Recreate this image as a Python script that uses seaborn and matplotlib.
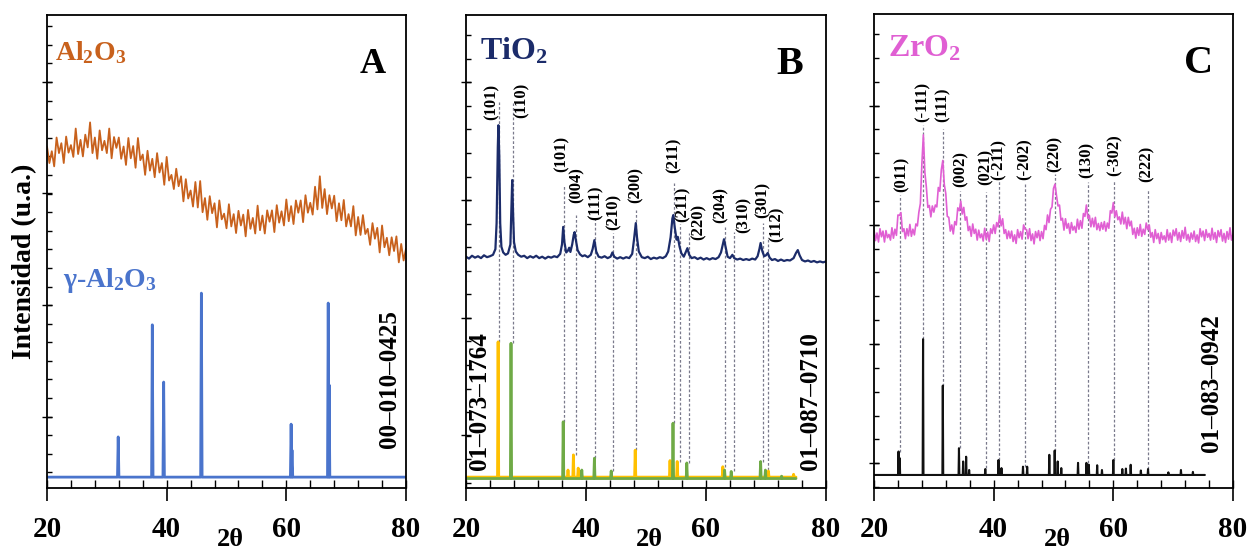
import numpy as np
import pandas as pd
import matplotlib
matplotlib.use("Agg")
import matplotlib.pyplot as plt
import seaborn as sns
from matplotlib.ticker import FixedLocator

# ---------------- data ----------------
two_theta_ticks = [20, 40, 60, 80]
two_theta_labels = ["20", "40", "60", "80"]

# Panel A: measured Al2O3 (0.4 deg steps, 20..80)
al2o3_y = [72.2, 68.7, 71.2, 68.0, 74.1, 70.8, 72.9, 68.7, 74.3, 70.9,
           72.5, 70.0, 76.0, 70.6, 73.6, 70.1, 74.7, 72.0, 77.3, 70.8,
           74.1, 69.6, 75.6, 71.4, 73.4, 70.8, 76.0, 69.7, 74.2, 71.9,
           74.1, 69.6, 72.2, 68.3, 74.0, 69.7, 72.3, 67.7, 74.0, 69.3,
           70.5, 66.2, 71.3, 67.1, 69.6, 65.7, 70.8, 66.7, 68.7, 64.1,
           70.0, 65.0, 66.2, 63.2, 67.5, 63.8, 65.9, 60.6, 65.3, 61.2,
           62.9, 59.5, 64.7, 59.3, 64.9, 58.3, 61.3, 56.7, 61.7, 58.1,
           60.2, 55.1, 60.8, 56.8, 58.0, 54.9, 60.0, 55.3, 57.9, 53.9,
           58.6, 55.5, 57.8, 53.2, 58.8, 54.8, 57.1, 53.8, 59.7, 54.5,
           57.6, 53.8, 58.7, 56.3, 58.7, 54.1, 59.8, 56.1, 58.5, 55.5,
           61.0, 56.4, 59.6, 55.8, 60.8, 58.2, 60.8, 56.2, 61.9, 58.2,
           60.3, 57.8, 63.7, 58.9, 65.9, 59.2, 63.2, 57.9, 61.9, 59.1,
           61.8, 56.4, 60.2, 56.6, 60.9, 55.3, 57.9, 55.3, 59.6, 53.4,
           57.3, 53.5, 57.7, 53.7, 54.8, 51.4, 56.0, 52.7, 55.0, 49.8,
           55.5, 50.9, 52.9, 49.2, 53.0, 50.1, 53.2, 47.7, 51.6, 48.1,
           50.6]
# Panel A: gamma-Al2O3 reference 00-010-0425
gal_pos = [31.9, 37.6, 39.5, 45.8, 60.8, 60.95, 67.0, 67.15]
gal_h = [10.8, 34.5, 22.4, 41.2, 13.5, 8.0, 39.1, 21.8]
gal_base = 2.3

# Panel B: measured TiO2
tio2_x = [20.0, 20.5, 21.0, 21.5, 22.0, 22.5, 23.0, 23.5, 24.0, 24.5, 24.9, 25.1, 25.3, 25.4,
          25.55, 25.7, 25.9, 26.2, 26.6, 27.0, 27.4, 27.55, 27.7, 27.85, 28.0, 28.3, 28.7,
          29.2, 29.7, 30.2, 30.7, 31.2, 31.7, 32.2, 32.7, 33.2, 33.7, 34.2, 34.7, 35.2, 35.7,
          36.0, 36.2, 36.4, 36.7, 37.0, 37.2, 37.4, 37.7, 37.95, 38.1, 38.3, 38.6, 39.0, 39.4,
          39.8, 40.3, 40.8, 41.1, 41.4, 41.7, 42.1, 42.6, 43.1, 43.6, 44.1, 44.4, 44.7, 45.2,
          45.7, 46.2, 46.7, 47.2, 47.7, 48.0, 48.3, 48.5, 48.8, 49.3, 49.8, 50.3, 50.8, 51.3,
          51.8, 52.3, 52.8, 53.3, 53.7, 54.1, 54.4, 54.55, 54.8, 55.1, 55.3, 55.6, 55.9, 56.3,
          56.6, 56.9, 57.2, 57.6, 58.1, 58.6, 59.1, 59.6, 60.1, 60.6, 61.1, 61.6, 62.1, 62.5,
          62.8, 63.0, 63.3, 63.6, 64.0, 64.4, 64.7, 65.2, 65.7, 66.2, 66.7, 67.2, 67.7, 68.2,
          68.6, 68.9, 69.1, 69.4, 69.7, 70.0, 70.3, 70.6, 71.0, 71.5, 72.0, 72.5, 73.0, 73.5,
          74.0, 74.6, 75.0, 75.3, 75.6, 76.0, 76.5, 77.0, 77.5, 78.0, 78.5, 79.0, 79.5, 80.0]
tio2_y = [48.9, 48.5, 49.1, 48.7, 49.0, 48.6, 49.2, 48.8, 49.0, 49.3, 50.5, 56.0, 72.0, 76.7,
          70.0, 56.0, 51.0, 49.8, 49.3, 49.6, 51.5, 58.0, 65.1, 58.0, 52.0, 50.0, 49.3,
          48.9, 49.1, 48.6, 49.0, 48.7, 49.1, 48.6, 48.9, 48.5, 48.9, 48.7, 49.0, 48.8, 49.5,
          51.5, 55.2, 52.0, 49.8, 50.2, 50.8, 49.9, 51.5, 53.5, 54.1, 52.5, 50.3, 49.4, 49.0,
          49.2, 48.8, 49.3, 50.5, 52.4, 50.0, 48.9, 48.7, 49.0, 48.6, 48.9, 49.8, 48.9, 48.5,
          48.8, 48.5, 48.8, 48.6, 49.5, 52.5, 56.0, 53.0, 50.0, 48.8, 48.6, 48.9, 48.4, 48.7,
          48.5, 48.8, 48.6, 49.0, 50.0, 53.0, 57.0, 57.7, 55.0, 52.5, 53.1, 51.0, 49.6, 48.9,
          49.8, 50.7, 49.3, 48.6, 48.8, 48.4, 48.7, 48.3, 48.6, 48.3, 48.6, 48.4, 48.8, 49.8,
          51.5, 52.6, 50.8, 48.9, 48.6, 49.3, 48.6, 48.3, 48.5, 48.2, 48.4, 48.2, 48.5, 48.3,
          49.0, 50.5, 51.8, 50.0, 49.0, 49.2, 49.7, 48.7, 48.2, 48.4, 48.0, 48.3, 48.0, 48.2,
          48.1, 48.6, 49.7, 50.3, 49.2, 48.2, 47.9, 48.1, 47.8, 48.0, 47.7, 47.9, 47.7, 47.9]
# Panel B references
anatase_pos = [25.35, 37.0, 37.9, 38.7, 48.2, 54.0, 55.2, 62.8, 70.4, 74.6]
anatase_h = [30.9, 3.8, 7.0, 4.2, 8.0, 5.8, 5.6, 4.5, 3.6, 2.9]
anatase_base = 2.3
rutile_pos = [27.5, 36.2, 39.3, 41.4, 44.2, 54.5, 56.8, 63.1, 64.2, 69.1, 69.9, 72.6]
rutile_h = [30.6, 14.0, 3.8, 6.3, 3.6, 13.7, 5.3, 3.8, 3.5, 5.6, 3.8, 2.5]
rutile_base = 2.0
tio2_hkl = ["(101)", "(110)", "(101)", "(004)", "(111)", "(210)", "(200)", "(211)",
            "(211)", "(220)", "(204)", "(310)", "(301)", "(112)"]
tio2_text_x = [24.3, 29.3, 35.9, 38.5, 41.6, 44.6, 48.2, 54.6, 56.1, 58.8, 62.4, 66.2, 69.4, 71.7]
tio2_text_y = [77.8, 78.2, 66.8, 60.2, 56.7, 54.5, 60.2, 66.6, 56.2, 52.4, 56.0, 53.9, 57.0, 52.0]
tio2_line_x = [25.5, 27.8, 36.4, 38.3, 41.5, 44.5, 48.4, 54.6, 55.7, 57.1, 63.2, 64.6, 69.5, 70.3]
tio2_line_top = [81.6, 81.4, 64.0, 57.7, 57.0, 53.9, 58.8, 64.5, 55.8, 53.9, 55.2, 54.1, 56.0, 53.0]
tio2_line_bot = [30.9, 30.6, 14.0, 7.0, 6.3, 3.6, 8.0, 13.7, 5.6, 5.3, 4.5, 3.5, 5.6, 3.8]

# Panel C: measured ZrO2 (0.25 deg steps, 20..80)
zro2_y = [54.5, 52.2, 53.8, 51.9, 54.7, 53.0, 54.2, 51.9, 54.3, 52.8, 53.5, 52.3,
          54.9, 52.7, 54.6, 53.3, 57.6, 57.5, 58.1, 54.1, 54.7, 52.6, 54.7, 53.2,
          55.6, 53.1, 54.6, 53.4, 55.7, 55.3, 58.2, 60.0, 68.4, 74.5, 66.6, 63.5,
          59.2, 59.6, 57.2, 59.5, 58.2, 59.7, 59.3, 63.4, 62.6, 67.1, 69.1, 64.0,
          62.1, 57.3, 57.1, 54.2, 55.5, 53.6, 56.2, 55.5, 59.1, 58.5, 60.5, 57.8,
          59.2, 56.5, 57.2, 54.3, 55.2, 53.1, 55.7, 53.7, 54.6, 52.3, 54.4, 52.8,
          53.6, 52.1, 54.8, 52.5, 54.0, 52.0, 54.7, 53.7, 55.5, 53.7, 56.0, 55.1,
          57.6, 55.3, 56.8, 53.7, 54.5, 52.6, 54.2, 52.7, 54.2, 52.0, 53.4, 51.6,
          54.5, 52.8, 54.1, 52.5, 55.5, 54.6, 54.5, 52.6, 54.7, 52.2, 53.6, 51.5,
          54.1, 52.8, 54.3, 52.2, 54.1, 52.6, 55.4, 54.5, 57.6, 56.0, 58.8, 59.3,
          63.2, 64.1, 61.7, 59.5, 59.7, 56.5, 56.9, 54.4, 56.8, 54.8, 55.8, 53.7,
          56.0, 54.4, 55.2, 53.9, 56.7, 54.6, 56.4, 54.8, 57.9, 57.3, 59.7, 56.9,
          57.5, 55.1, 56.9, 55.1, 57.1, 54.5, 55.8, 54.3, 56.0, 54.6, 56.2, 54.2,
          55.9, 54.8, 58.5, 58.0, 60.2, 57.2, 58.5, 56.6, 57.2, 55.7, 58.2, 55.7,
          57.1, 54.7, 57.1, 55.3, 56.3, 53.5, 54.8, 52.7, 54.9, 53.3, 55.6, 53.1,
          54.6, 53.5, 55.9, 54.5, 55.5, 52.9, 53.9, 51.8, 54.5, 52.6, 53.7, 51.6,
          53.9, 52.4, 53.2, 51.9, 54.5, 52.3, 53.8, 51.8, 54.4, 53.2, 54.7, 52.3,
          53.9, 52.0, 54.3, 52.7, 55.0, 52.3, 53.5, 51.9, 53.8, 52.5, 54.2, 52.0,
          53.4, 51.7, 54.7, 53.0, 54.2, 52.2, 54.5, 52.9, 53.7, 52.3, 54.8, 52.5,
          53.9, 51.8, 54.3, 53.0, 54.5, 52.1, 53.7, 51.8, 54.1, 52.5, 54.9, 52.3,
          53.6]
# Panel C reference 01-083-0942
zref_pos = [24.1, 24.3, 28.2, 31.5, 34.2, 34.9, 35.4, 35.9, 38.6, 40.8, 41.3, 44.9, 45.6,
            49.3, 50.2, 50.7, 51.3, 54.1, 55.5, 55.9, 57.3, 58.1, 60.0, 61.5, 62.1, 62.9,
            64.6, 65.8, 69.2, 71.3, 73.3]
zref_h = [7.7, 6.3, 31.4, 21.6, 8.4, 5.6, 6.6, 3.8, 4.0, 5.9, 4.2, 4.5, 4.5,
          7.0, 7.9, 5.6, 4.2, 5.3, 5.3, 4.9, 4.8, 3.8, 5.9, 4.0, 4.1, 4.9,
          3.7, 4.0, 3.3, 3.8, 3.4]
zref_base = 2.75
zro2_hkl = ["(011)", "(-111)", "(111)", "(002)", "(021)", "(-211)", "(-202)", "(220)",
            "(130)", "(-302)", "(222)"]
zro2_text_x = [24.7, 28.1, 31.4, 34.4, 38.6, 40.9, 45.1, 50.2, 55.6, 60.2, 65.6]
zro2_text_y = [62.4, 77.2, 77.2, 63.6, 64.0, 65.0, 65.0, 66.6, 65.5, 65.8, 64.5]
zro2_line_x = [24.3, 28.2, 31.5, 34.4, 38.8, 40.9, 45.2, 50.3, 55.7, 60.1, 65.8]
zro2_line_top = [61.9, 76.5, 75.7, 62.6, 62.4, 64.7, 64.3, 66.2, 64.5, 64.7, 63.0]
zro2_line_bot = [7.7, 31.4, 21.6, 8.4, 4.2, 5.9, 4.5, 7.9, 5.3, 5.9, 4.0]

# ---------------- styling ----------------
sns.set_theme(style="ticks")
plt.rcParams["font.family"] = ["Liberation Serif", "DejaVu Sans"]
plt.rcParams["font.weight"] = "bold"
plt.rcParams["text.color"] = "black"
plt.rcParams["axes.labelcolor"] = "black"
plt.rcParams["mathtext.fontset"] = "custom"
plt.rcParams["mathtext.rm"] = "Liberation Serif:bold"
plt.rcParams["mathtext.it"] = "Liberation Serif:bold"
plt.rcParams["mathtext.bf"] = "Liberation Serif:bold"
plt.rcParams["mathtext.default"] = "rm"

C_ORANGE = "#C8611C"
C_BLUE = "#4A74CC"
C_NAVY = "#1C2C6A"
C_YELLOW = "#FFC000"
C_GREEN = "#6FAA46"
C_PINK = "#E05FD3"
C_BLACK = "#111111"
C_DASH = "#7A7A8C"

W, H = 1252, 552
fig = plt.figure(figsize=(W / 100, H / 100), dpi=100)


def add_ax(l, r, t, b):
    return fig.add_axes([l / W, 1 - b / H, (r - l) / W, (b - t) / H])


axA = add_ax(47, 406, 15, 488)
axB = add_ax(466, 826, 15, 488)
axC = add_ax(874, 1233, 14, 488)


def stick_frame(pos, h, base, x0, x1, w=0.12):
    xs, ys = [x0], [base]
    for p, hh in zip(pos, h):
        xs += [p - w, p, p + w]
        ys += [base, hh, base]
    xs.append(x1)
    ys.append(base)
    return pd.DataFrame({"x": xs, "y": ys})


def curve(ax, df, color, lw):
    sns.lineplot(data=df, x="x", y="y", ax=ax, color=color, lw=lw,
                 sort=False, estimator=None, legend=False)


def style(ax, ymaj, ymin):
    ax.set_xlim(20, 80)
    ax.set_ylim(0, 100)
    ax.set_xticks(two_theta_ticks)
    ax.set_xticklabels(two_theta_labels)
    ax.xaxis.set_minor_locator(FixedLocator(list(range(20, 81, 4))))
    ax.xaxis.remove_overlapping_locs = False
    ax.set_yticks(ymaj)
    ax.set_yticklabels([])
    ax.yaxis.set_minor_locator(FixedLocator(ymin))
    ax.tick_params(axis="x", which="major", direction="out", length=9, width=1.2,
                   labelsize=21, pad=11, bottom=True, top=False, colors="black")
    ax.tick_params(axis="x", which="minor", direction="in", length=6, width=1.0,
                   bottom=True, top=False, colors="black")
    ax.tick_params(axis="y", which="major", direction="inout", length=7, width=1.0,
                   left=True, right=False, colors="black")
    ax.tick_params(axis="y", which="minor", direction="in", length=3.5, width=1.0,
                   left=True, right=False, colors="black")
    for lab in ax.get_xticklabels():
        lab.set_fontweight("bold")
    for s in ax.spines.values():
        s.set_linewidth(1.3)
        s.set_color("black")
        s.set_visible(True)
    ax.set_ylabel("")
    ax.set_xlabel("2θ", fontsize=19, fontweight="bold", color="black")
    ax.xaxis.set_label_coords(0.51, -0.084)


# ---- Panel A ----
dfA = pd.DataFrame({"x": np.linspace(20, 80, len(al2o3_y)), "y": al2o3_y})
curve(axA, dfA, C_ORANGE, 1.3)
curve(axA, stick_frame(gal_pos, gal_h, gal_base, 20, 80), C_BLUE, 2.0)
style(axA, [15.1, 38.7, 62.3, 85.9], list(np.arange(3.3, 100, 3.93)))
axA.text(0.022, 0.905, "Al$_2$O$_3$", transform=axA.transAxes, color=C_ORANGE,
         fontsize=20, ha="left", va="baseline")
axA.text(0.045, 0.425, "γ-Al$_2$O$_3$", transform=axA.transAxes, color=C_BLUE,
         fontsize=20, ha="left", va="baseline")
axA.text(0.908, 0.877, "A", transform=axA.transAxes, fontsize=26, ha="center",
         va="baseline", color="black")
axA.text(0.955, 0.23, "00–010–0425", transform=axA.transAxes, rotation=90,
         fontsize=18, ha="center", va="center", color="black")
axA.text(-0.0613, 0.48, "Intensidad (u.a.)", transform=axA.transAxes, rotation=90,
         fontsize=20, ha="center", va="center", color="black")

# ---- Panel B ----
axB.vlines(tio2_line_x, tio2_line_bot, tio2_line_top, colors=C_DASH, lw=0.9,
           linestyles=(0, (2.2, 1.6)), zorder=1)
curve(axB, pd.DataFrame({"x": tio2_x, "y": tio2_y}), C_NAVY, 1.6)
curve(axB, stick_frame(anatase_pos, anatase_h, anatase_base, 20, 75, 0.1), C_YELLOW, 2.0)
curve(axB, stick_frame(rutile_pos, rutile_h, rutile_base, 20, 75, 0.1), C_GREEN, 2.0)
for s, tx, ty in zip(tio2_hkl, tio2_text_x, tio2_text_y):
    axB.text(tx, ty, s, rotation=90, ha="center", va="bottom", fontsize=12, color="black")
style(axB, [11.1, 36.0, 60.9, 85.9], list(np.arange(1.1, 100, 4.98)))
axB.text(0.039, 0.905, "TiO$_2$", transform=axB.transAxes, color=C_NAVY,
         fontsize=23, ha="left", va="baseline")
axB.text(0.899, 0.875, "B", transform=axB.transAxes, fontsize=29, ha="center",
         va="baseline", color="black")
axB.text(0.0375, 0.184, "01–073–1764", transform=axB.transAxes, rotation=90,
         fontsize=18, ha="center", va="center", color="black")
axB.text(0.957, 0.184, "01–087–0710", transform=axB.transAxes, rotation=90,
         fontsize=18, ha="center", va="center", color="black")

# ---- Panel C ----
axC.vlines(zro2_line_x, zro2_line_bot, zro2_line_top, colors=C_DASH, lw=0.9,
           linestyles=(0, (2.2, 1.6)), zorder=1)
dfC = pd.DataFrame({"x": np.linspace(20, 80, len(zro2_y)), "y": zro2_y})
curve(axC, dfC, C_PINK, 1.2)
curve(axC, stick_frame(zref_pos, zref_h, zref_base, 20, 75.3, 0.07), C_BLACK, 1.5)
for s, tx, ty in zip(zro2_hkl, zro2_text_x, zro2_text_y):
    axC.text(tx, ty, s, rotation=90, ha="center", va="bottom", fontsize=12, color="black")
style(axC, [5.2, 30.3, 55.4, 80.6], list(np.arange(0.2, 100, 5.03)))
axC.text(0.039, 0.911, "ZrO$_2$", transform=axC.transAxes, color=C_PINK,
         fontsize=23, ha="left", va="baseline")
axC.text(0.905, 0.875, "C", transform=axC.transAxes, fontsize=29, ha="center",
         va="baseline", color="black")
axC.text(0.94, 0.222, "01–083–0942", transform=axC.transAxes, rotation=90,
         fontsize=18, ha="center", va="center", color="black")

fig.savefig("out.png", dpi=100)
